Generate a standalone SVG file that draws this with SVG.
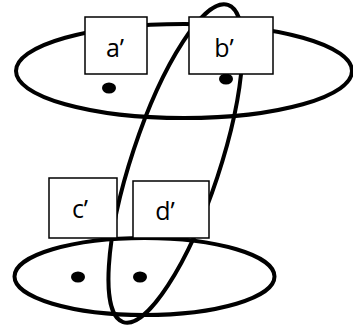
<svg xmlns="http://www.w3.org/2000/svg" width="353" height="327" viewBox="0 0 353 327">
<style>
.set{fill:none;stroke:#000;stroke-width:4}
.box{fill:#fff;stroke:#000;stroke-width:1.5}
.lbl{font-family:"Open Sans","Liberation Sans",sans-serif;font-size:25px;fill:#000;text-anchor:middle}
.dot{fill:#000}
</style>
<rect width="353" height="327" fill="#fff"/>
<g id="connectors">
<ellipse class="set" cx="184" cy="71" rx="168" ry="47"/>
<ellipse class="set" cx="144.5" cy="276.5" rx="130" ry="38.5"/>
<ellipse class="set" cx="175.5" cy="163.5" rx="44" ry="167" transform="rotate(18.3 175.5 163.5)"/>
</g>
<g id="dots">
<ellipse class="dot" cx="109" cy="88" rx="7" ry="5.5"/>
<ellipse class="dot" cx="226" cy="79" rx="7" ry="5.5"/>
<ellipse class="dot" cx="78" cy="277" rx="7" ry="5.5"/>
<ellipse class="dot" cx="140" cy="277" rx="7" ry="5.5"/>
</g>
<g id="a">
<rect class="box" x="85" y="17" width="62" height="57"/>
<text class="lbl" x="115" y="57">a’</text>
</g>
<g id="b">
<rect class="box" x="189" y="17" width="84" height="57"/>
<text class="lbl" x="224" y="57">b’</text>
</g>
<g id="c">
<rect class="box" x="49" y="178" width="68" height="60"/>
<text class="lbl" x="80" y="218">c’</text>
</g>
<g id="d">
<rect class="box" x="133" y="181" width="76" height="57"/>
<text class="lbl" x="165" y="220">d’</text>
</g>
</svg>
